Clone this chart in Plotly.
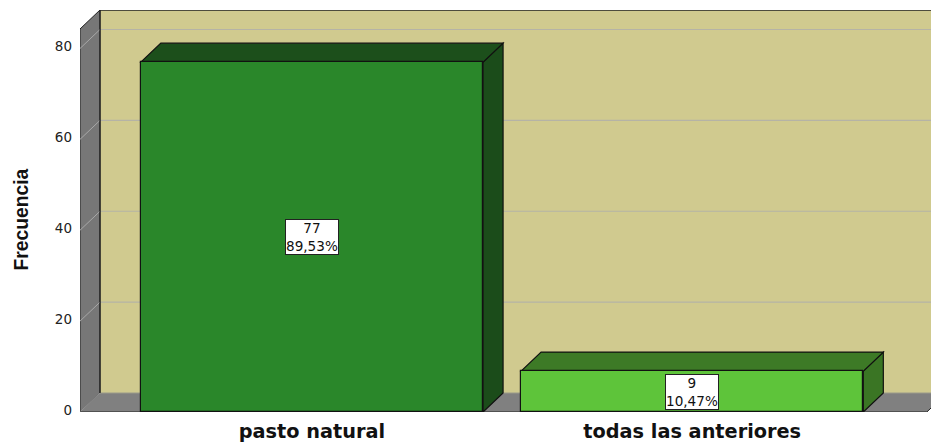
import plotly.graph_objects as go

# ---- data ----
categories = ["pasto natural", "todas las anteriores"]
frequencies = [77, 9]
percent_labels = ["89,53%", "10,47%"]
y_ticks = [0, 20, 40, 60, 80]
axis_title = "Frecuencia"

# ---- style ----
front_colors = ["#2A872A", "#5EC43A"]
top_colors = ["#1C4F1B", "#3D7A26"]
side_colors = ["#1B4C1A", "#3A7524"]
wall_color = "#D0CA8F"
side_wall_color = "#777777"
floor_color = "#808080"
grid_color = "#B5B3A6"
FONT = "DejaVu Sans"

bar_w = 0.9
xpos = list(range(len(categories)))
x0, x1 = -0.610, 1.628
y0, y1 = 0, 88.47
dx, dy = 0.0526, 4.18           # depth offset (data units)
floor_right = 1.617

fig = go.Figure()

shapes = []
def poly(pts, fill, line_color=None, width=1):
    path = "M " + " L ".join(f"{px},{py}" for px, py in pts) + " Z"
    shapes.append(dict(type="path", path=path, xref="x", yref="y",
                       fillcolor=fill, layer="below",
                       line=dict(color=line_color or fill, width=width if line_color else 0)))

def seg(xa, ya, xb, yb, color, width=1):
    shapes.append(dict(type="line", x0=xa, y0=ya, x1=xb, y1=yb, xref="x", yref="y",
                       layer="below", line=dict(color=color, width=width)))

# back wall
poly([(x0 + dx, dy), (x1 + 1, dy), (x1 + 1, y1), (x0 + dx, y1)], wall_color)
# gridlines on back wall
for t in y_ticks[1:]:
    seg(x0 + dx, t + dy, x1 + 1, t + dy, grid_color, 1.2)
# left wall
poly([(x0, 0), (x0, y1 - dy), (x0 + dx, y1), (x0 + dx, dy)], side_wall_color, "#222222", 1)
for t in y_ticks:
    if t + dy <= y1:
        seg(x0, t, x0 + dx, t + dy, "#A8A8A8", 1)
# floor
poly([(x0, 0), (floor_right, 0), (floor_right + dx, dy), (x0 + dx, dy)], floor_color)
seg(x0, 0, floor_right, 0, "#222222", 1.2)
seg(floor_right, 0, floor_right + dx, dy, "#222222", 1)
seg(x0 + dx, dy, x1 + 1, dy, "#9A9A8A", 1)
# wall edges
seg(x0 + dx, dy, x0 + dx, y1, "#222222", 1.2)
seg(x0 + dx, y1, x1 + 1, y1, "#222222", 1.5)

# bar side and top faces
for xc, v, tc, sc in zip(xpos, frequencies, top_colors, side_colors):
    xl, xr = xc - bar_w / 2, xc + bar_w / 2
    poly([(xr, 0), (xr, v), (xr + dx, v + dy), (xr + dx, dy)], sc, "#111111", 1.2)
    poly([(xl, v), (xr, v), (xr + dx, v + dy), (xl + dx, v + dy)], tc, "#111111", 1.2)

fig.add_trace(go.Bar(
    x=xpos, y=frequencies, width=bar_w,
    marker=dict(color=front_colors, line=dict(color="#111111", width=1.2)),
    hoverinfo="skip", showlegend=False,
))

annotations = []
for xc, v, p in zip(xpos, frequencies, percent_labels):
    annotations.append(dict(
        x=xc, y=v / 2, xref="x", yref="y", text=f"{v}<br>{p}", showarrow=False,
        font=dict(family=FONT, size=13.6, color="#111111"),
        bgcolor="white", bordercolor="#222222", borderwidth=1, borderpad=0,
        align="center",
    ))
annotations.append(dict(
    x=-0.0699, y=0.4776, xref="paper", yref="paper", text=f"<b>{axis_title}</b>",
    textangle=-90, showarrow=False, xanchor="center", yanchor="middle",
    font=dict(family="Liberation Sans", size=19.3, color="#111111"),
))

fig.update_layout(
    width=931, height=445,
    margin=dict(l=80, r=0, t=10, b=33),
    paper_bgcolor="white", plot_bgcolor="white",
    shapes=shapes, annotations=annotations,
    xaxis=dict(range=[x0, x1], tickvals=xpos,
               ticktext=[f"<b>{c}</b>" for c in categories],
               showgrid=False, zeroline=False, showline=False, ticks="",
               tickfont=dict(family=FONT, size=19.3, color="#111111"),
               ticklabelstandoff=6, fixedrange=True),
    yaxis=dict(range=[y0, y1], tickvals=y_ticks,
               showgrid=False, zeroline=False, showline=False, ticks="",
               tickfont=dict(family=FONT, size=13.5, color="#222222"),
               ticklabelstandoff=7, ticklabelshift=-2, fixedrange=True),
    bargap=0,
)

fig.write_html("out.html", config={"displayModeBar": False},
               post_script="document.body.style.margin='0px';")
